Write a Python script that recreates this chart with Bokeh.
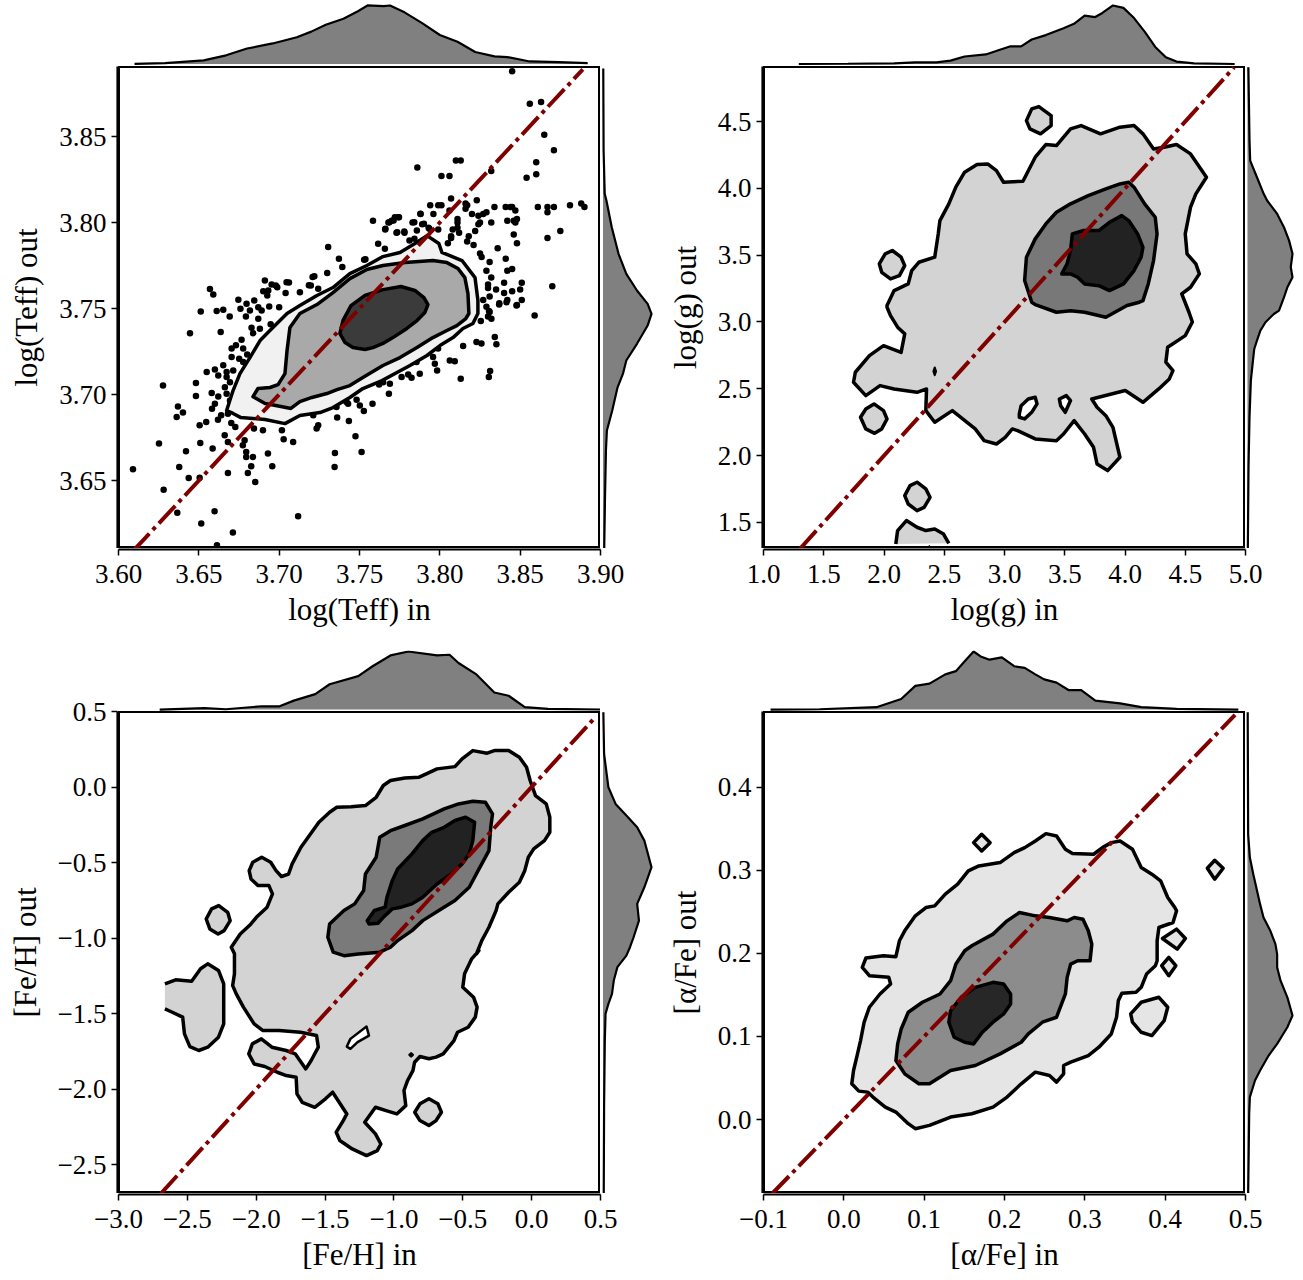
from bokeh.plotting import figure
from bokeh.layouts import row, column
from bokeh.models import Range1d, FixedTicker, CustomJSTickFormatter, Spacer
from bokeh.embed import file_html
from bokeh.resources import INLINE

# ======================= DATA =======================
# ---- Panel 1: log(Teff) in vs out ----
teff_points = [
    (3.845, 3.888), (3.856, 3.869), (3.863, 3.870), (3.865, 3.851), (3.871, 3.842), (3.860, 3.835),
    (3.860, 3.828), (3.854, 3.826), (3.810, 3.836), (3.813, 3.836), (3.786, 3.832), (3.801, 3.827),
    (3.806, 3.827), (3.832, 3.830), (3.807, 3.814), (3.823, 3.813), (3.816, 3.811), (3.817, 3.810),
    (3.794, 3.810), (3.799, 3.810), (3.801, 3.810), (3.834, 3.809), (3.841, 3.809), (3.844, 3.809),
    (3.845, 3.809), (3.861, 3.809), (3.867, 3.809), (3.871, 3.809), (3.881, 3.810), (3.888, 3.811),
    (3.890, 3.809), (3.867, 3.806), (3.788, 3.805), (3.796, 3.805), (3.806, 3.807), (3.811, 3.802),
    (3.811, 3.800), (3.816, 3.808), (3.820, 3.805), (3.824, 3.804), (3.829, 3.806), (3.827, 3.805),
    (3.847, 3.807), (3.842, 3.801), (3.846, 3.801), (3.848, 3.802), (3.847, 3.800), (3.832, 3.800),
    (3.824, 3.799), (3.825, 3.800), (3.772, 3.803), (3.774, 3.803), (3.770, 3.801), (3.768, 3.800),
    (3.766, 3.796), (3.783, 3.800), (3.789, 3.799), (3.773, 3.794), (3.778, 3.794), (3.793, 3.797),
    (3.799, 3.796), (3.811, 3.797), (3.808, 3.796), (3.807, 3.792), (3.812, 3.794), (3.805, 3.788),
    (3.807, 3.791), (3.818, 3.792), (3.817, 3.789), (3.822, 3.795), (3.846, 3.793), (3.848, 3.788),
    (3.867, 3.791), (3.875, 3.795), (3.821, 3.787), (3.825, 3.782), (3.826, 3.780), (3.836, 3.785),
    (3.841, 3.779), (3.831, 3.777), (3.842, 3.772), (3.845, 3.773), (3.829, 3.772), (3.832, 3.768),
    (3.830, 3.764), (3.830, 3.762), (3.831, 3.757), (3.840, 3.765), (3.835, 3.761), (3.840, 3.759),
    (3.842, 3.755), (3.845, 3.760), (3.848, 3.752), (3.850, 3.761), (3.851, 3.755), (3.851, 3.765),
    (3.837, 3.753), (3.870, 3.763), (3.827, 3.755), (3.829, 3.751), (3.831, 3.748), (3.859, 3.746),
    (3.7305, 3.7857), (3.7616, 3.7877), (3.7658, 3.7848), (3.7372, 3.7789), (3.7529, 3.7784),
    (3.7299, 3.7706), (3.7208, 3.7683), (3.7061, 3.7652), (3.6911, 3.7663), (3.6953, 3.7640),
    (3.6988, 3.7624), (3.6901, 3.7600), (3.6932, 3.7605), (3.6926, 3.7576), (3.7040, 3.7590),
    (3.7129, 3.7595), (3.7185, 3.7636), (3.7243, 3.7615), (3.6569, 3.7613), (3.6590, 3.7582),
    (3.6797, 3.7528), (3.6845, 3.7547), (3.6818, 3.7489), (3.6870, 3.7508), (3.6891, 3.7489),
    (3.6938, 3.7512), (3.7000, 3.7508), (3.6611, 3.7485), (3.6652, 3.7493), (3.6793, 3.7454),
    (3.6870, 3.7441), (3.6828, 3.7388), (3.6838, 3.7357), (3.6880, 3.7383), (3.6947, 3.7408),
    (3.6636, 3.7363), (3.6445, 3.7357), (3.6766, 3.7319), (3.6704, 3.7267), (3.6731, 3.7286),
    (3.6776, 3.7267), (3.6704, 3.7218), (3.6751, 3.7208), (3.6801, 3.7233), (3.6776, 3.7189),
    (3.6652, 3.7170), (3.6600, 3.7145), (3.6549, 3.7131), (3.6673, 3.7131), (3.6621, 3.7111),
    (3.6673, 3.7102), (3.6714, 3.7140), (3.6694, 3.7072), (3.6662, 3.7043), (3.6482, 3.7067),
    (3.6580, 3.7009), (3.6621, 3.6989), (3.6482, 3.6991), (3.6600, 3.6947), (3.6673, 3.7005),
    (3.6694, 3.6966), (3.7689, 3.7063), (3.7647, 3.7072), (3.7683, 3.7005), (3.7581, 3.6947),
    (3.7502, 3.6937), (3.7419, 3.6956), (3.7357, 3.6927),
    (3.6277, 3.7053), (3.6370, 3.6931), (3.6401, 3.6895), (3.6362, 3.6869), (3.6582, 3.6918),
    (3.6639, 3.6879), (3.6619, 3.6854), (3.6681, 3.6889), (3.6702, 3.6834), (3.6727, 3.6811),
    (3.6661, 3.6763), (3.6681, 3.6724), (3.6505, 3.6821), (3.6546, 3.6840), (3.6252, 3.6716),
    (3.6509, 3.6718), (3.6420, 3.6670), (3.6586, 3.6687), (3.6090, 3.6565), (3.6378, 3.6579),
    (3.6437, 3.6515), (3.6505, 3.6517), (3.6281, 3.6447), (3.6681, 3.6544), (3.6785, 3.6734),
    (3.6774, 3.6705), (3.6795, 3.6666), (3.6795, 3.6637), (3.6837, 3.6637), (3.6826, 3.6583),
    (3.6805, 3.6544), (3.6851, 3.6491), (3.6930, 3.6657), (3.6957, 3.6583), (3.7017, 3.6793),
    (3.7028, 3.6740), (3.7087, 3.6724), (3.6899, 3.6793), (3.6843, 3.6802), (3.6366, 3.6313),
    (3.6598, 3.6321), (3.6515, 3.6250), (3.6712, 3.6198), (3.6613, 3.6124), (3.7118, 3.6292),
    (3.8369, 3.7524), (3.8415, 3.7537), (3.8477, 3.7518), (3.8306, 3.7485), (3.8300, 3.7454),
    (3.8321, 3.7441), (3.8255, 3.7427), (3.8342, 3.7334), (3.8352, 3.7292), (3.8228, 3.7305),
    (3.8259, 3.7296), (3.8145, 3.7282), (3.7989, 3.7267), (3.7958, 3.7218), (3.7969, 3.7179),
    (3.7983, 3.7140), (3.8062, 3.7198), (3.8093, 3.7194), (3.8130, 3.7092), (3.8305, 3.7102),
    (3.7834, 3.7189), (3.7855, 3.7189), (3.7875, 3.7121), (3.7824, 3.7098), (3.7762, 3.7102),
    (3.7803, 3.7117), (3.7622, 3.7059), (3.7482, 3.6970), (3.7527, 3.6904), (3.7429, 3.6947),
    (3.7361, 3.6866), (3.7434, 3.6846), (3.7212, 3.6879), (3.7243, 3.6821), (3.7233, 3.6802),
    (3.7475, 3.6757), (3.7347, 3.6660), (3.7513, 3.6666), (3.7345, 3.6579), (3.8313, 3.7137),
    (3.7584, 3.8010), (3.7661, 3.7964), (3.7686, 3.8002), (3.7712, 3.8012), (3.7746, 3.8031),
    (3.7735, 3.7944), (3.7779, 3.7948), (3.7841, 3.8002), (3.7857, 3.7954), (3.7879, 3.8051),
    (3.7901, 3.7993), (3.7935, 3.7964), (3.7811, 3.7896), (3.7842, 3.7906), (3.7537, 3.7787),
    (3.7393, 3.7741), (3.7219, 3.7687), (3.7197, 3.7634), (3.7046, 3.7653), (3.6979, 3.7634),
    (3.6746, 3.7551), (3.6759, 3.7499), (3.6512, 3.7483), (3.6692, 3.7454),
]
teff_pts_in = [p[0] for p in teff_points]
teff_pts_out = [p[1] for p in teff_points]

teff_c1_x = [3.6673, 3.6713, 3.6756, 3.6818, 3.6881, 3.6961, 3.7049, 3.7129, 3.7235, 3.7335, 3.7440, 3.7546, 3.7646,
             3.7752, 3.7845, 3.7920, 3.7994, 3.8013, 3.8138, 3.8219, 3.8237, 3.8237, 3.8206, 3.8144, 3.8082, 3.8001,
             3.7920, 3.7814, 3.7733, 3.7640, 3.7521, 3.7440, 3.7335, 3.7254, 3.7129, 3.7036, 3.6912, 3.6762, 3.6713]
teff_c1_y = [3.6907, 3.7023, 3.7122, 3.7215, 3.7314, 3.7390, 3.7471, 3.7517, 3.7576, 3.7622, 3.7703, 3.7750, 3.7802,
             3.7826, 3.7878, 3.7924, 3.7878, 3.7826, 3.7779, 3.7680, 3.7547, 3.7471, 3.7413, 3.7384, 3.7331, 3.7285,
             3.7227, 3.7169, 3.7128, 3.7081, 3.7035, 3.6983, 3.6924, 3.6895, 3.6878, 3.6831, 3.6855, 3.6866, 3.6890]
teff_c2_x = [3.6837, 3.6868, 3.6943, 3.6993, 3.7036, 3.7049, 3.7067, 3.7129, 3.7235, 3.7335, 3.7440, 3.7546, 3.7646,
             3.7783, 3.7957, 3.8044, 3.8113, 3.8156, 3.8175, 3.8181, 3.8162, 3.8106, 3.8044, 3.7957, 3.7858, 3.7752,
             3.7646, 3.7521, 3.7440, 3.7360, 3.7297, 3.7204, 3.7129, 3.7073, 3.7011, 3.6912]
teff_c2_y = [3.6988, 3.7035, 3.7041, 3.7058, 3.7122, 3.7256, 3.7390, 3.7471, 3.7523, 3.7593, 3.7674, 3.7727, 3.7750,
             3.7767, 3.7779, 3.7767, 3.7733, 3.7680, 3.7587, 3.7471, 3.7442, 3.7401, 3.7372, 3.7331, 3.7273, 3.7215,
             3.7169, 3.7099, 3.7052, 3.7029, 3.7006, 3.6983, 3.6959, 3.6919, 3.6930, 3.6948]
teff_c3_x = [3.7378, 3.7397, 3.7447, 3.7534, 3.7646, 3.7758, 3.7845, 3.7901, 3.7926, 3.7907, 3.7858, 3.7795, 3.7708,
             3.7646, 3.7584, 3.7534, 3.7459, 3.7410]
teff_c3_y = [3.7355, 3.7430, 3.7517, 3.7576, 3.7610, 3.7628, 3.7605, 3.7564, 3.7523, 3.7477, 3.7430, 3.7384, 3.7331,
             3.7297, 3.7273, 3.7262, 3.7273, 3.7302]

teff_kde_x = [3.610, 3.629, 3.653, 3.667, 3.680, 3.696, 3.711, 3.720, 3.729, 3.740, 3.749, 3.755, 3.765, 3.769,
              3.778, 3.789, 3.800, 3.811, 3.822, 3.834, 3.842, 3.856, 3.874, 3.892]
teff_kde_in = [0.003, 0.014, 0.061, 0.148, 0.264, 0.351, 0.456, 0.553, 0.670, 0.774, 0.901, 1.0, 0.988, 1.0,
               0.883, 0.699, 0.496, 0.379, 0.205, 0.130, 0.118, 0.043, 0.031, 0.014]
teff_kde_y = [3.8895, 3.8419, 3.8167, 3.8128, 3.7973, 3.7818, 3.7702, 3.7605, 3.7527, 3.7469, 3.7401, 3.7295,
              3.7198, 3.7120, 3.7042, 3.6907, 3.6791, 3.6674, 3.6384, 3.6105]
teff_kde_out = [0.005, 0.012, 0.035, 0.07, 0.18, 0.32, 0.48, 0.70, 0.92, 1.0, 0.92, 0.70, 0.48, 0.41, 0.30, 0.19,
                0.08, 0.06, 0.04, 0.025]

# ---- Panel 2: log(g) ----
logg_c1_x = [2.025, 2.084, 2.201, 2.230, 2.289, 2.421, 2.450, 2.464, 2.538, 2.596, 2.669, 2.772, 2.860, 2.933,
             2.992, 3.153, 3.255, 3.343, 3.431, 3.548, 3.636, 3.797, 3.958, 4.075, 4.149, 4.237, 4.325, 4.427,
             4.544, 4.676, 4.588, 4.544, 4.500, 4.515, 4.588, 4.617, 4.544, 4.471, 4.531,
             4.559, 4.500, 4.354, 4.339, 4.398, 4.368, 4.280, 4.149, 4.002, 3.724, 3.768, 3.841, 3.900, 3.958,
             3.856, 3.768, 3.739, 3.665, 3.578, 3.490, 3.431, 3.255, 3.109, 3.065, 3.006, 2.933, 2.831, 2.757,
             2.567, 2.421, 2.347, 2.353, 2.274, 2.172, 2.084, 1.967, 1.849, 1.747, 1.762, 1.879, 1.996, 2.142,
             2.172, 2.113, 2.054, 2.025]
logg_c1_y = [3.123, 3.235, 3.285, 3.385, 3.447, 3.485, 3.659, 3.759, 3.884, 4.009, 4.121, 4.178, 4.183, 4.133,
             4.046, 4.053, 4.233, 4.328, 4.320, 4.445, 4.470, 4.408, 4.458, 4.470, 4.408, 4.295, 4.308, 4.328,
             4.258, 4.083, 3.959, 3.859, 3.659, 3.510, 3.435, 3.360, 3.260, 3.210, 3.073,
             3.000, 2.898, 2.811, 2.699, 2.636, 2.574, 2.499, 2.399, 2.487, 2.424, 2.362, 2.299, 2.212, 1.988,
             1.888, 1.938, 2.062, 2.162, 2.262, 2.162, 2.112, 2.125, 2.187, 2.200, 2.137, 2.087, 2.112, 2.200,
             2.337, 2.250, 2.337, 2.499, 2.474, 2.487, 2.499, 2.524, 2.449, 2.549, 2.624, 2.748, 2.823, 2.773,
             2.911, 2.961, 3.048, 3.110]
logg_c2_x = [3.226, 3.167, 3.182, 3.255, 3.343, 3.431, 3.548, 3.695, 3.841, 3.958, 4.031, 4.075, 4.163, 4.251,
             4.266, 4.237, 4.193, 4.149, 4.119, 4.017, 3.841, 3.665, 3.548, 3.431, 3.255]
logg_c2_y = [3.148, 3.310, 3.485, 3.622, 3.734, 3.821, 3.884, 3.946, 3.996, 4.033, 4.046, 4.009, 3.884, 3.784,
             3.659, 3.460, 3.285, 3.160, 3.148, 3.123, 3.036, 3.073, 3.085, 3.073, 3.130]
logg_c3_x = [3.563, 3.651, 3.783, 3.871, 3.973, 4.031, 4.105, 4.149, 4.134, 4.075, 3.988, 3.871, 3.783, 3.665,
             3.607, 3.548, 3.475, 3.519, 3.548]
logg_c3_y = [3.659, 3.684, 3.684, 3.746, 3.796, 3.759, 3.659, 3.559, 3.485, 3.385, 3.285, 3.235, 3.272, 3.285,
             3.335, 3.360, 3.360, 3.435, 3.535]
logg_islands = [
    ([3.182, 3.226, 3.285, 3.387, 3.387, 3.299, 3.211], [4.507, 4.595, 4.612, 4.545, 4.470, 4.408, 4.445]),
    ([1.961, 2.010, 2.069, 2.142, 2.172, 2.128, 2.054, 1.981], [3.435, 3.510, 3.535, 3.485, 3.422, 3.347, 3.322, 3.372]),
    ([1.805, 1.849, 1.917, 1.996, 2.025, 1.981, 1.922, 1.849], [2.287, 2.349, 2.387, 2.337, 2.274, 2.200, 2.167, 2.200]),
    ([2.172, 2.216, 2.274, 2.347, 2.382, 2.333, 2.274, 2.201], [1.701, 1.776, 1.801, 1.751, 1.688, 1.613, 1.588, 1.638]),
]
logg_edge_x = [2.098, 2.113, 2.186, 2.274, 2.347, 2.421, 2.494, 2.538]
logg_edge_y = [1.339, 1.439, 1.514, 1.464, 1.439, 1.451, 1.413, 1.344]
logg_holes = [
    ([3.123, 3.138, 3.197, 3.255, 3.270, 3.226, 3.167, 3.123], [2.312, 2.374, 2.424, 2.437, 2.387, 2.324, 2.275, 2.287]),
    ([3.455, 3.513, 3.548, 3.504, 3.466], [2.424, 2.449, 2.412, 2.324, 2.374]),
]
logg_dots = [
    ([2.410, 2.421, 2.432, 2.421], [2.631, 2.660, 2.631, 2.602]),
    ([2.366, 2.376, 2.386], [1.306, 1.322, 1.306]),
]
logg_kde_x = [1.293, 1.700, 2.084, 2.260, 2.435, 2.552, 2.669, 2.845, 2.962, 3.050, 3.138, 3.226, 3.343, 3.490,
              3.577, 3.665, 3.753, 3.812, 3.900, 3.987, 4.075, 4.163, 4.251, 4.339, 4.427, 4.573, 4.910]
logg_kde_in = [0.0, 0.004, 0.012, 0.029, 0.029, 0.058, 0.128, 0.163, 0.244, 0.302, 0.302, 0.419, 0.494, 0.610,
               0.686, 0.826, 0.802, 0.872, 1.0, 0.959, 0.785, 0.552, 0.291, 0.116, 0.041, 0.012, 0.0]
logg_kde_y = [4.907, 4.358, 4.208, 4.083, 3.959, 3.909, 3.809, 3.709, 3.609, 3.510, 3.410, 3.335, 3.260, 3.185,
              3.085, 3.060, 2.998, 2.936, 2.861, 2.798, 2.636, 2.561, 2.287, 1.913, 1.301]
logg_kde_out = [0.02, 0.045, 0.06, 0.21, 0.36, 0.436, 0.66, 0.81, 0.925, 1.0, 0.962, 1.0, 0.887, 0.81, 0.70,
                0.586, 0.40, 0.286, 0.21, 0.15, 0.098, 0.075, 0.045, 0.023, 0.008]

# ---- Panel 3: [Fe/H] ----
feh_c1_x = [-2.181, -2.116, -2.038, -1.999, -1.921, -1.882, -1.908, -1.986, -2.038, -2.051, -2.025, -1.960,
            -1.895, -1.856, -1.817, -1.765, -1.739, -1.675, -1.623, -1.545, -1.467, -1.415, -1.311, -1.207,
            -1.129, -1.077, -1.025, -0.921, -0.817, -0.765, -0.687, -0.557, -0.505, -0.427, -0.323, -0.271,
            -0.167, -0.089, -0.037, -0.011, 0.028, 0.106, 0.132, 0.132, 0.093, 0.015, -0.024, -0.050, -0.089,
            -0.167, -0.245, -0.258, -0.310, -0.362, -0.401,
            -0.383, -0.435, -0.487, -0.500, -0.422, -0.396, -0.409, -0.461, -0.538, -0.564, -0.642, -0.694,
            -0.746, -0.811, -0.850, -0.862, -0.901, -0.927, -0.914, -0.979, -1.057, -1.134, -1.212, -1.134,
            -1.095, -1.121, -1.199, -1.303, -1.393, -1.419, -1.368, -1.342, -1.445, -1.497, -1.575, -1.666,
            -1.704, -1.710, -1.782, -1.847, -1.938, -2.015, -2.054, -2.028, -1.963, -1.886, -1.782, -1.717,
            -1.640, -1.601, -1.549, -1.562, -1.679, -1.834, -1.951, -2.015, -2.093, -2.145, -2.171, -2.158,
            -2.158]
feh_c1_y = [-1.061, -0.973, -0.907, -0.863, -0.796, -0.708, -0.653, -0.653, -0.609, -0.554, -0.498, -0.465,
            -0.498, -0.554, -0.593, -0.576, -0.509, -0.399, -0.333, -0.233, -0.167, -0.134, -0.130, -0.123,
            -0.068, 0.010, 0.043, 0.060, 0.065, 0.087, 0.120, 0.135, 0.186, 0.241, 0.224, 0.241, 0.241, 0.197,
            0.131, 0.043, -0.057, -0.112, -0.200, -0.300, -0.355, -0.410, -0.465, -0.554, -0.631, -0.697,
            -0.774, -0.818, -0.929, -1.017, -1.106,
            -1.083, -1.138, -1.237, -1.326, -1.392, -1.458, -1.524, -1.591, -1.624, -1.679, -1.767, -1.789,
            -1.800, -1.785, -1.823, -1.878, -1.944, -2.010, -2.110, -2.165, -2.143, -2.121, -2.220, -2.297,
            -2.364, -2.408, -2.441, -2.397, -2.341, -2.286, -2.209, -2.165, -2.021, -2.065, -2.121, -2.088,
            -2.032, -1.922, -1.911, -1.889, -1.851, -1.834, -1.767, -1.701, -1.668, -1.723, -1.745, -1.767,
            -1.867, -1.811, -1.723, -1.646, -1.624, -1.613, -1.613, -1.569, -1.458, -1.370, -1.315, -1.237,
            -1.105]
feh_c2_x = [-1.441, -1.480, -1.467, -1.363, -1.285, -1.220, -1.207, -1.129, -1.103, -1.025, -0.921, -0.791,
            -0.635, -0.531, -0.427, -0.336, -0.284, -0.297, -0.310, -0.375, -0.453, -0.557, -0.674, -0.791,
            -0.869, -0.973, -1.025, -1.103, -1.259, -1.363]
feh_c2_y = [-1.094, -0.995, -0.907, -0.818, -0.774, -0.686, -0.576, -0.465, -0.333, -0.289, -0.255, -0.211,
            -0.145, -0.112, -0.094, -0.101, -0.178, -0.266, -0.421, -0.531, -0.664, -0.752, -0.818, -0.885,
            -0.951, -1.017, -1.061, -1.094, -1.106, -1.117]
feh_c3_x = [-1.194, -1.142, -1.064, -1.051, -1.012, -0.973, -0.869, -0.791, -0.726, -0.635, -0.557, -0.479,
            -0.414, -0.427, -0.453, -0.505, -0.583, -0.687, -0.791, -0.869, -0.947, -1.012, -1.077, -1.116, -1.181]
feh_c3_y = [-0.885, -0.818, -0.796, -0.730, -0.620, -0.543, -0.443, -0.355, -0.300, -0.267, -0.222, -0.200,
            -0.233, -0.355, -0.443, -0.509, -0.576, -0.642, -0.730, -0.774, -0.796, -0.807, -0.863, -0.902, -0.907]
feh_islands = [
    ([-2.363, -2.324, -2.272, -2.207, -2.189, -2.233, -2.277, -2.337], [-0.874, -0.807, -0.785, -0.830, -0.885, -0.951, -0.973, -0.940]),
    ([-0.849, -0.811, -0.746, -0.681, -0.655, -0.694, -0.746, -0.811], [-2.154, -2.098, -2.065, -2.098, -2.154, -2.209, -2.242, -2.209]),
]
feh_edge_x = [-2.663, -2.585, -2.469, -2.404, -2.352, -2.274, -2.236, -2.236, -2.274, -2.352, -2.417, -2.482,
              -2.521, -2.534, -2.637, -2.663]
feh_edge_y = [-1.304, -1.277, -1.286, -1.204, -1.171, -1.215, -1.304, -1.569, -1.657, -1.723, -1.745, -1.719,
              -1.635, -1.524, -1.480, -1.469]
feh_holes = [
    ([-1.342, -1.316, -1.199, -1.181, -1.264, -1.316], [-1.719, -1.668, -1.586, -1.646, -1.690, -1.734]),
    ([-0.887, -0.875, -0.863, -0.875], [-1.774, -1.764, -1.774, -1.784]),
]
feh_kde_x = [-2.701, -2.376, -2.220, -1.960, -1.830, -1.727, -1.571, -1.467, -1.259, -1.155, -1.025, -0.895,
             -0.687, -0.596, -0.531, -0.401, -0.271, -0.167, -0.050, 0.119, 0.509]
feh_kde_in = [0.0, 0.023, 0.005, 0.056, 0.056, 0.153, 0.266, 0.435, 0.576, 0.746, 0.932, 1.0, 0.932, 0.944,
              0.802, 0.605, 0.294, 0.237, 0.040, 0.011, 0.0]
feh_kde_y = [0.495, 0.219, -0.002, -0.112, -0.189, -0.266, -0.355, -0.531, -0.664, -0.774, -0.885, -0.995,
             -1.061, -1.117, -1.193, -1.282, -1.370, -1.436, -1.502, -1.679, -2.121, -2.695]
feh_kde_out = [0.007, 0.022, 0.111, 0.259, 0.481, 0.704, 0.852, 1.0, 0.852, 0.704, 0.741, 0.630, 0.556, 0.481,
               0.296, 0.222, 0.185, 0.111, 0.052, 0.037, 0.022, 0.015]

# ---- Panel 4: [alpha/Fe] ----
afe_c1_x = [0.0274, 0.0494, 0.0648, 0.0692, 0.0758, 0.0890, 0.1022, 0.1131, 0.1263, 0.1417, 0.1549, 0.1681,
            0.1945, 0.2120, 0.2252, 0.2384, 0.2516, 0.2648, 0.2758, 0.2846, 0.3109, 0.3219, 0.3329, 0.3439,
            0.3593, 0.3702, 0.3834, 0.3944, 0.4032, 0.4120, 0.4142, 0.4098, 0.3922, 0.3900, 0.3900,
            0.3878, 0.3768, 0.3702, 0.3637, 0.3461, 0.3417, 0.3395, 0.3329, 0.3175, 0.3043, 0.2824, 0.2736,
            0.2736, 0.2648, 0.2560, 0.2384, 0.2208, 0.2032, 0.1857, 0.1593, 0.1329, 0.1066, 0.0890, 0.0802,
            0.0648, 0.0516, 0.0362, 0.0296, 0.0187, 0.0099, 0.0121, 0.0165, 0.0208, 0.0252, 0.0318, 0.0450,
            0.0582, 0.0560, 0.0318, 0.0230]
afe_c1_y = [0.1943, 0.1971, 0.1959, 0.2151, 0.2271, 0.2451, 0.2551, 0.2571, 0.2712, 0.2832, 0.2992, 0.3052,
            0.3092, 0.3212, 0.3272, 0.3352, 0.3440, 0.3412, 0.3252, 0.3200, 0.3192, 0.3272, 0.3332, 0.3352,
            0.3252, 0.3032, 0.2952, 0.2872, 0.2672, 0.2551, 0.2511, 0.2371, 0.2311, 0.2151, 0.1911,
            0.1851, 0.1751, 0.1591, 0.1531, 0.1519, 0.1431, 0.1231, 0.1030, 0.0870, 0.0770, 0.0690, 0.0650,
            0.0550, 0.0450, 0.0530, 0.0570, 0.0430, 0.0270, 0.0150, 0.0070, 0.0030, -0.0070, -0.0110, -0.0050,
            0.0090, 0.0150, 0.0270, 0.0330, 0.0342, 0.0430, 0.0590, 0.0770, 0.0950, 0.1170, 0.1351, 0.1511,
            0.1631, 0.1711, 0.1731, 0.1831]
afe_c2_x = [0.1505, 0.1593, 0.1857, 0.2032, 0.2186, 0.2384, 0.2560, 0.2780, 0.2868, 0.2977, 0.3043, 0.3087,
            0.3065, 0.2911, 0.2824, 0.2780, 0.2758, 0.2648, 0.2472, 0.2296, 0.2208, 0.1945, 0.1637, 0.1329,
            0.1066, 0.0934, 0.0758, 0.0648, 0.0670, 0.0714, 0.0802, 0.0978, 0.1197, 0.1329, 0.1395]
afe_c2_y = [0.2031, 0.2091, 0.2231, 0.2391, 0.2491, 0.2451, 0.2431, 0.2391, 0.2431, 0.2411, 0.2271, 0.2111,
            0.1911, 0.1911, 0.1871, 0.1711, 0.1511, 0.1231, 0.1171, 0.1030, 0.0930, 0.0790, 0.0650, 0.0590,
            0.0430, 0.0430, 0.0550, 0.0710, 0.0910, 0.1090, 0.1291, 0.1411, 0.1511, 0.1671, 0.1871]
afe_c3_x = [0.1307, 0.1329, 0.1461, 0.1637, 0.1857, 0.1989, 0.2076, 0.2076, 0.1989, 0.1857, 0.1725, 0.1615,
            0.1505, 0.1373]
afe_c3_y = [0.1171, 0.1311, 0.1471, 0.1591, 0.1651, 0.1631, 0.1511, 0.1391, 0.1271, 0.1171, 0.1050, 0.0910,
            0.0930, 0.0990]
afe_islands = [
    ([0.1615, 0.1716, 0.1821, 0.1716], [0.3332, 0.3432, 0.3332, 0.3232]),
    ([0.4525, 0.4617, 0.4722, 0.4617], [0.3024, 0.3120, 0.3024, 0.2892]),
    ([0.3966, 0.4142, 0.4252, 0.4150], [0.2179, 0.2291, 0.2179, 0.2051]),
    ([0.3957, 0.4045, 0.4133, 0.4045], [0.1851, 0.1951, 0.1851, 0.1731]),
    ([0.3571, 0.3702, 0.3922, 0.4032, 0.3988, 0.3834, 0.3702, 0.3593], [0.1271, 0.1411, 0.1471, 0.1351, 0.1191, 0.1010, 0.1050, 0.1171]),
]
afe_kde_x = [-0.0912, -0.030, 0.0406, 0.0714, 0.0890, 0.1066, 0.1263, 0.1395, 0.1505, 0.1615, 0.1703, 0.1813,
             0.1967, 0.2120, 0.2252, 0.2384, 0.2494, 0.2648, 0.2801, 0.2955, 0.3131, 0.3439, 0.3702, 0.4142, 0.4911]
afe_kde_in = [0.0, 0.005, 0.040, 0.181, 0.407, 0.446, 0.605, 0.661, 0.831, 1.0, 0.915, 0.859, 0.898, 0.746,
              0.718, 0.605, 0.520, 0.463, 0.333, 0.333, 0.153, 0.107, 0.040, 0.011, 0.0]
afe_kde_y = [0.490, 0.3432, 0.3152, 0.2952, 0.2592, 0.2431, 0.2271, 0.2111, 0.1991, 0.1831, 0.1671, 0.1471,
             0.1251, 0.1111, 0.0910, 0.0770, 0.0590, 0.0470, 0.0270, 0.0070, -0.0890]
afe_kde_out = [0.005, 0.015, 0.053, 0.129, 0.280, 0.356, 0.508, 0.621, 0.659, 0.659, 0.735, 0.886, 1.0, 0.886,
               0.659, 0.470, 0.280, 0.167, 0.053, 0.038, 0.015]

# axis ticks
teff_ticks_x = [3.60, 3.65, 3.70, 3.75, 3.80, 3.85, 3.90]
teff_ticks_y = [3.65, 3.70, 3.75, 3.80, 3.85]
logg_ticks_x = [1.0, 1.5, 2.0, 2.5, 3.0, 3.5, 4.0, 4.5, 5.0]
logg_ticks_y = [1.5, 2.0, 2.5, 3.0, 3.5, 4.0, 4.5]
feh_ticks_x = [-3.0, -2.5, -2.0, -1.5, -1.0, -0.5, 0.0, 0.5]
feh_ticks_y = [-2.5, -2.0, -1.5, -1.0, -0.5, 0.0, 0.5]
afe_ticks_x = [-0.1, 0.0, 0.1, 0.2, 0.3, 0.4, 0.5]
afe_ticks_y = [0.0, 0.1, 0.2, 0.3, 0.4]

# ======================= STYLE / BUILD =======================
FONT = "Liberation Serif"
DIAG = "#800000"
MARG = "#808080"
LW = 3.5
FR = 482  # frame size in px


def fmt(nd):
    return CustomJSTickFormatter(
        code="return (tick < 0 ? '\u2212' : '') + Math.abs(tick).toFixed(%d);" % nd)


def base_fig(**kw):
    p = figure(output_backend="svg", toolbar_location=None, tools="", min_border=0,
               background_fill_color="white", border_fill_color="white", **kw)
    for g in p.grid:
        g.visible = False
    return p


def style_axis(ax, ticks, nd, label, standoff, lab_standoff):
    ax.ticker = FixedTicker(ticks=ticks)
    ax.formatter = fmt(nd)
    ax.axis_label = label
    ax.axis_line_width = 2.2
    ax.axis_line_color = "black"
    ax.major_tick_line_width = 1.5
    ax.major_tick_line_color = "black"
    ax.major_tick_in = 0
    ax.major_tick_out = 6
    ax.minor_tick_line_color = None
    ax.major_label_text_font = FONT
    ax.major_label_text_font_size = "27px"
    ax.major_label_text_color = "black"
    ax.major_label_standoff = standoff
    ax.axis_label_text_font = FONT
    ax.axis_label_text_font_size = "31px"
    ax.axis_label_text_font_style = "normal"
    ax.axis_label_text_color = "black"
    ax.axis_label_standoff = lab_standoff


def make_panel(L, Ht, R, B, xr, yr, xt, yt, nd, xl, yl, top_yr, right_xr, top_xy, right_xy):
    main = base_fig(width=FR, height=FR, x_range=Range1d(*xr), y_range=Range1d(*yr),
                    x_axis_location=None, y_axis_location=None,
                    outline_line_color="black", outline_line_width=3)
    yax = base_fig(width=L, height=Ht + FR, x_range=Range1d(0, 1), y_range=main.y_range,
                   x_axis_location=None, min_border_left=L - 1, min_border_top=Ht,
                   outline_line_color=None)
    style_axis(yax.yaxis[0], yt, nd, yl, 5, 12)
    xax = base_fig(width=L + FR + R, height=B, x_range=main.x_range, y_range=Range1d(0, 1),
                   y_axis_location=None, min_border_left=L, min_border_right=R,
                   min_border_bottom=B - 1, outline_line_color=None)
    style_axis(xax.xaxis[0], xt, nd, xl, 9, 6)
    top = base_fig(width=FR, height=Ht, x_range=main.x_range, y_range=Range1d(*top_yr),
                   x_axis_location=None, y_axis_location=None, outline_line_color=None)
    xs, dens = top_xy
    top.varea(x=xs, y1=[0] * len(xs), y2=dens, fill_color=MARG)
    top.line(xs, dens, line_color="black", line_width=2.2)
    right = base_fig(width=R, height=FR, x_range=Range1d(*right_xr), y_range=main.y_range,
                     x_axis_location=None, y_axis_location=None, outline_line_color=None)
    ys, dens = right_xy
    right.harea(y=ys, x1=[0] * len(ys), x2=dens, fill_color=MARG)
    right.line(dens, ys, line_color="black", line_width=2.2)
    block = column(row(yax, column(row(top, Spacer(width=R, height=Ht)), row(main, right))), xax)
    return main, block


def contour(p, xs, ys, color, lw=LW):
    p.patch(xs, ys, fill_color=color, line_color="black", line_width=lw, line_join="round")


def edge_contour(p, xs, ys, color):
    p.patch(xs, ys, fill_color=color, line_color=None)
    p.line(xs, ys, line_color="black", line_width=LW, line_join="round")


def diag(p, lo, hi):
    p.line([lo, hi], [lo, hi], line_color=DIAG, line_width=4, line_dash="24 5 4 5")


# ---- Panel 1 ----
m1, b1 = make_panel(118, 66, 63, 102, (3.60, 3.90), (3.6105, 3.8907), teff_ticks_x, teff_ticks_y, 2,
                    "log(Teff) in", "log(Teff) out", (-0.043, 1.085), (-0.052, 1.247),
                    (teff_kde_x, teff_kde_in), (teff_kde_y, teff_kde_out))
m1.scatter(teff_pts_in, teff_pts_out, size=6.5, fill_color="black", line_color=None)
contour(m1, teff_c1_x, teff_c1_y, "#f1f1f1")
contour(m1, teff_c2_x, teff_c2_y, "#a9a9a9")
contour(m1, teff_c3_x, teff_c3_y, "#3b3b3b")
diag(m1, 3.609, 3.889)

# ---- Panel 2 ----
m2, b2 = make_panel(100, 66, 55, 102, (1.0, 5.0), (1.305, 4.912), logg_ticks_x, logg_ticks_y, 1,
                    "log(g) in", "log(g) out", (-0.043, 1.085), (-0.044, 1.178),
                    (logg_kde_x, logg_kde_in), (logg_kde_y, logg_kde_out))
contour(m2, logg_c1_x, logg_c1_y, "#d3d3d3")
for hx, hy in logg_holes:
    contour(m2, hx, hy, "white")
for ix, iy in logg_islands:
    contour(m2, ix, iy, "#d3d3d3")
edge_contour(m2, logg_edge_x, logg_edge_y, "#d3d3d3")
for dx, dy in logg_dots:
    contour(m2, dx, dy, "black", lw=2)
contour(m2, logg_c2_x, logg_c2_y, "#787878")
contour(m2, logg_c3_x, logg_c3_y, "#222222")
diag(m2, 1.305, 4.905)

# ---- Panel 3 ----
m3, b3 = make_panel(118, 61, 63, 85, (-3.0, 0.5), (-2.692, 0.5), feh_ticks_x, feh_ticks_y, 1,
                    "[Fe/H] in", "[Fe/H] out", (-0.034, 1.017), (-0.052, 1.247),
                    (feh_kde_x, feh_kde_in), (feh_kde_y, feh_kde_out))
contour(m3, feh_c1_x, feh_c1_y, "#d3d3d3")
for hx, hy in feh_holes:
    contour(m3, hx, hy, "white", lw=2.5)
for ix, iy in feh_islands:
    contour(m3, ix, iy, "#d3d3d3")
edge_contour(m3, feh_edge_x, feh_edge_y, "#d3d3d3")
contour(m3, feh_c2_x, feh_c2_y, "#7a7a7a")
contour(m3, feh_c3_x, feh_c3_y, "#222222")
diag(m3, -2.692, 0.46)

# ---- Panel 4 ----
m4, b4 = make_panel(100, 61, 55, 85, (-0.1, 0.5), (-0.089, 0.491), afe_ticks_x, afe_ticks_y, 1,
                    "[\u03b1/Fe] in", "[\u03b1/Fe] out", (-0.034, 1.017), (-0.044, 1.178),
                    (afe_kde_x, afe_kde_in), (afe_kde_y, afe_kde_out))
contour(m4, afe_c1_x, afe_c1_y, "#e5e5e5")
for ix, iy in afe_islands:
    contour(m4, ix, iy, "#e5e5e5")
contour(m4, afe_c2_x, afe_c2_y, "#8c8c8c")
contour(m4, afe_c3_x, afe_c3_y, "#272727")
diag(m4, -0.089, 0.487)

page = column(row(b1, b2), row(b3, b4))

with open("out.html", "w", encoding="utf-8") as f:
    f.write(file_html(page, INLINE, title="Input vs output parameters"))
